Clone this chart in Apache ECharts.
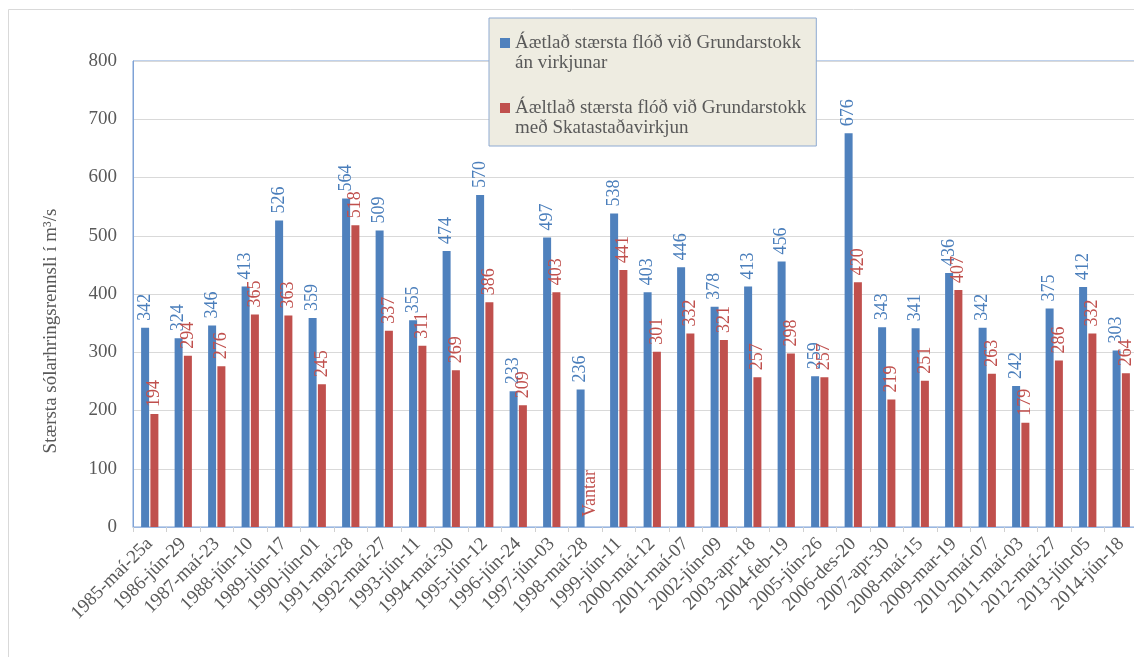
<!DOCTYPE html>
<html>
<head>
<meta charset="utf-8">
<script src="https://cdn.jsdelivr.net/npm/echarts@6/dist/echarts.min.js"></script>
<style>
  html, body { margin: 0; padding: 0; background: #fff; }
  #chart { width: 1134px; height: 657px; }
</style>
</head>
<body>
<div id="chart"></div>
<script>
// Flood dates (largest daily discharge per year)
const categories = [
  '1985-maí-25a', '1986-jún-29', '1987-maí-23', '1988-jún-10', '1989-jún-17',
  '1990-jún-01', '1991-maí-28', '1992-maí-27', '1993-jún-11', '1994-maí-30',
  '1995-jún-12', '1996-jún-24', '1997-jún-03', '1998-maí-28', '1999-jún-11',
  '2000-maí-12', '2001-maí-07', '2002-jún-09', '2003-apr-18', '2004-feb-19',
  '2005-jún-26', '2006-des-20', '2007-apr-30', '2008-maí-15', '2009-mar-19',
  '2010-maí-07', '2011-maí-03', '2012-maí-27', '2013-jún-05', '2014-jún-18'
];

// Without the power plant
const withoutPlant = [
  342, 324, 346, 413, 526, 359, 564, 509, 355, 474,
  570, 233, 497, 236, 538, 403, 446, 378, 413, 456,
  259, 676, 343, 341, 436, 342, 242, 375, 412, 303
];

// With Skatastaðavirkjun (null = value missing)
const withPlant = [
  194, 294, 276, 365, 363, 245, 518, 337, 311, 269,
  386, 209, 403, null, 441, 301, 332, 321, 257, 298,
  257, 420, 219, 251, 407, 263, 179, 286, 332, 264
];

const missingText = 'Vantar';

const seriesNames = [
  'Áætlað stærsta flóð við Grundarstokk\nán virkjunar',
  'Áæltlað stærsta flóð við Grundarstokk\nmeð Skatastaðavirkjun'
];

const yTicks = { min: 0, max: 800, interval: 100 };

const FONT = "'Liberation Serif', 'Times New Roman', serif";
const BLUE = '#4F81BD';
const RED = '#C0504D';
const TEXT = '#595959';

// Legend marker: square on the first text line
const legendIcon = 'path://M0,0L10,0L10,10L0,10ZM0,30L0.01,30';

const redData = withPlant.map(v => v === null
  ? { value: 0, label: { formatter: missingText, distance: 10 } }
  : v);

const chart = echarts.init(document.getElementById('chart'), null, { renderer: 'canvas' });

const valueLabel = (color) => ({
  show: true,
  position: 'top',
  rotate: 90,
  align: 'left',
  verticalAlign: 'middle',
  distance: 7,
  color: color,
  fontFamily: FONT,
  fontSize: 18
});

chart.setOption({
  animation: false,
  backgroundColor: '#fff',
  graphic: [{
    type: 'rect',
    shape: { x: 8.5, y: 9.5, width: 1300, height: 800 },
    style: { fill: 'none', stroke: '#D9D9D9', lineWidth: 1 },
    silent: true,
    z: -10
  }],
  grid: {
    left: 133,
    top: 61,
    bottom: 130,
    width: 1005,
    outerBoundsMode: 'none',
    containLabel: false,
    show: true,
    borderColor: '#7EA2D6',
    borderWidth: 1,
    backgroundColor: 'transparent'
  },
  legend: {
    orient: 'vertical',
    left: 489,
    top: 18,
    itemWidth: 10,
    itemHeight: 30,
    itemGap: 25,
    icon: legendIcon,
    padding: [15, 10, 8, 11],
    backgroundColor: '#EEECE1',
    borderColor: '#8EAAD2',
    borderWidth: 1,
    textStyle: {
      fontFamily: FONT,
      fontSize: 19,
      color: TEXT,
      lineHeight: 20
    },
    data: seriesNames
  },
  xAxis: {
    type: 'category',
    data: categories,
    axisLine: { show: true, lineStyle: { color: '#9BB7E0' } },
    axisTick: { show: true, length: 5, alignWithLabel: false, lineStyle: { color: '#D0D0D0' } },
    axisLabel: {
      rotate: 45,
      interval: 0,
      margin: 14,
      hideOverlap: false,
      fontFamily: FONT,
      fontSize: 19,
      color: TEXT
    }
  },
  yAxis: {
    type: 'value',
    min: yTicks.min,
    max: yTicks.max,
    interval: yTicks.interval,
    name: 'Stærsta sólarhringsrennsli í m³/s',
    nameLocation: 'middle',
    nameGap: 72,
    nameTextStyle: {
      fontFamily: FONT,
      fontSize: 19,
      color: TEXT,
      padding: [0, 74, 0, 0]
    },
    axisLine: { show: true, lineStyle: { color: '#7EA2D6' } },
    axisTick: { show: false },
    axisLabel: {
      margin: 16,
      fontFamily: FONT,
      fontSize: 19,
      color: TEXT
    },
    splitLine: { show: true, lineStyle: { color: '#D9D9D9' } }
  },
  series: [
    {
      name: seriesNames[0],
      type: 'bar',
      data: withoutPlant,
      barWidth: 8,
      barGap: '16%',
      itemStyle: { color: BLUE },
      label: valueLabel('#4A7EBB')
    },
    {
      name: seriesNames[1],
      type: 'bar',
      data: redData,
      barWidth: 8,
      itemStyle: { color: RED },
      label: valueLabel(RED)
    }
  ]
});
</script>
</body>
</html>
